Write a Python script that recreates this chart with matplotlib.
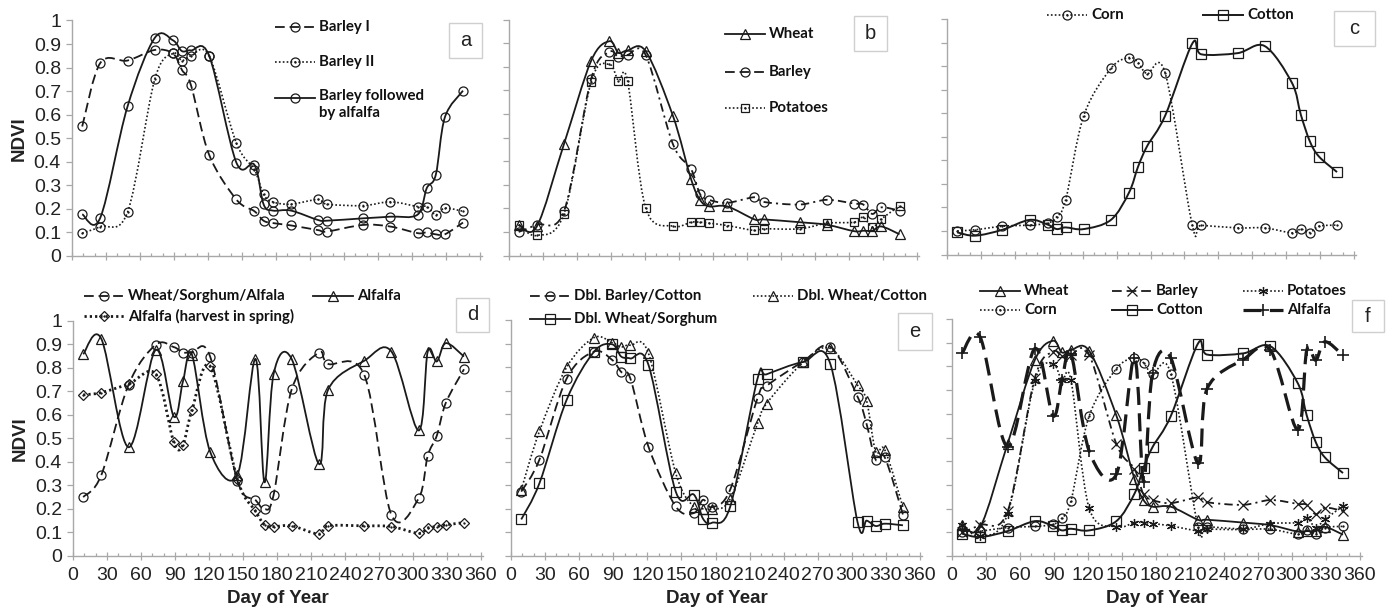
import matplotlib
matplotlib.use("Agg")
import matplotlib.pyplot as plt
from matplotlib.path import Path
from matplotlib.patches import PathPatch, Rectangle
from matplotlib.lines import Line2D
import numpy as np

plt.rcParams['lines.scale_dashes'] = False

# ---------------- data ----------------
days = [9, 25, 49, 73, 89, 97, 105, 121, 145, 161, 169, 177, 193, 217, 225, 257, 281, 305, 313, 321, 329, 345]

# panel a
barley_1 = [0.55, 0.82, 0.83, 0.875, 0.86, 0.79, 0.725, 0.43, 0.24, 0.19, 0.15, 0.14, 0.13, 0.11, 0.104, 0.132, 0.125, 0.097, 0.10, 0.092, 0.092, 0.142]
barley_2 = [0.097, 0.125, 0.186, 0.75, 0.86, 0.83, 0.85, 0.85, 0.48, 0.366, 0.262, 0.23, 0.22, 0.24, 0.22, 0.214, 0.23, 0.21, 0.21, 0.175, 0.203, 0.19]
barley_alfalfa = [0.177, 0.163, 0.635, 0.926, 0.916, 0.87, 0.873, 0.851, 0.397, 0.387, 0.22, 0.193, 0.193, 0.153, 0.15, 0.16, 0.167, 0.176, 0.288, 0.345, 0.589, 0.702]

# panel b (reused in f)
wheat = [0.13, 0.123, 0.473, 0.826, 0.908, 0.859, 0.869, 0.866, 0.593, 0.325, 0.236, 0.208, 0.208, 0.153, 0.153, 0.141, 0.13, 0.103, 0.105, 0.105, 0.123, 0.09]
barley = [0.10, 0.131, 0.188, 0.75, 0.862, 0.843, 0.85, 0.85, 0.473, 0.367, 0.26, 0.236, 0.223, 0.247, 0.227, 0.216, 0.236, 0.22, 0.216, 0.176, 0.204, 0.19]
potatoes = [0.13, 0.085, 0.177, 0.737, 0.81, 0.741, 0.741, 0.202, 0.124, 0.141, 0.141, 0.137, 0.127, 0.106, 0.113, 0.113, 0.137, 0.141, 0.162, 0.12, 0.155, 0.21]

# panel c (reused in f)
corn = [0.10, 0.105, 0.12, 0.125, 0.133, 0.16, 0.233, 0.59, 0.79, 0.836, 0.815, 0.767, 0.77, 0.124, 0.124, 0.113, 0.113, 0.092, 0.108, 0.093, 0.12, 0.125]
cotton = [0.094, 0.08, 0.105, 0.147, 0.127, 0.108, 0.115, 0.108, 0.147, 0.263, 0.373, 0.46, 0.59, 0.896, 0.85, 0.855, 0.885, 0.73, 0.593, 0.48, 0.416, 0.35]

# panel d (alfalfa reused in f)
wheat_sorghum_alfalfa = [0.25, 0.344, 0.727, 0.897, 0.887, 0.864, 0.864, 0.847, 0.32, 0.238, 0.198, 0.259, 0.708, 0.864, 0.816, 0.769, 0.174, 0.245, 0.426, 0.511, 0.651, 0.793]
alfalfa = [0.857, 0.922, 0.462, 0.875, 0.592, 0.741, 0.854, 0.443, 0.344, 0.837, 0.313, 0.773, 0.836, 0.391, 0.705, 0.829, 0.868, 0.533, 0.868, 0.826, 0.904, 0.847]
alfalfa_spring = [0.684, 0.694, 0.73, 0.772, 0.482, 0.472, 0.62, 0.805, 0.326, 0.191, 0.132, 0.125, 0.128, 0.093, 0.128, 0.128, 0.125, 0.096, 0.119, 0.125, 0.132, 0.142]

# panel e
dbl_barley_cotton = [0.273, 0.408, 0.752, 0.866, 0.831, 0.78, 0.753, 0.463, 0.21, 0.182, 0.238, 0.207, 0.282, 0.669, 0.721, 0.824, 0.887, 0.675, 0.559, 0.408, 0.418, 0.175]
dbl_wheat_cotton = [0.28, 0.528, 0.80, 0.925, 0.904, 0.886, 0.893, 0.859, 0.351, 0.207, 0.20, 0.20, 0.242, 0.562, 0.646, 0.82, 0.88, 0.724, 0.658, 0.442, 0.45, 0.207]
dbl_wheat_sorghum = [0.155, 0.308, 0.662, 0.865, 0.897, 0.845, 0.837, 0.81, 0.273, 0.26, 0.158, 0.141, 0.21, 0.752, 0.77, 0.822, 0.815, 0.144, 0.15, 0.127, 0.137, 0.13]

x_ticks = list(range(0, 361, 30))
y_ticks = [0, 0.1, 0.2, 0.3, 0.4, 0.5, 0.6, 0.7, 0.8, 0.9, 1]
y_labels = ["0", "0.1", "0.2", "0.3", "0.4", "0.5", "0.6", "0.7", "0.8", "0.9", "1"]

# ---------------- style ----------------
W, H = 1392, 609
K = "#1a1a1a"
GRAY = "#a8a8a8"
TICKFONT = "Liberation Sans"
LEGFONT = "Lato"

SOLID = "-"
DASH = (0, (7, 3.5))
DASHDOT = (0, (6, 3, 1.5, 3))
DOT = (0, (1.2, 1.6))
HEAVYDOT = (0, (1.6, 2.2))
LONGDASH = (0, (13, 6))

fig = plt.figure(figsize=(W / 100, H / 100), dpi=100)


def fx(px):
    return px / W


def fy(py):
    return 1 - py / H


def make_ax(x0, x360, y0, y1, xlabels, ylabels):
    xmax = 362
    width = (x360 - x0) * xmax / 360
    ax = fig.add_axes([fx(x0), fy(y0), width / W, (y0 - y1) / H])
    ax.set_xlim(0, xmax)
    ax.set_ylim(0, 1)
    for s in ("top", "right"):
        ax.spines[s].set_visible(False)
    for s in ("left", "bottom"):
        ax.spines[s].set_color(GRAY)
        ax.spines[s].set_linewidth(1.0)
    ax.set_xticks(x_ticks)
    ax.set_xticks(list(range(0, 361, 10)), minor=True)
    ax.set_yticks(y_ticks)
    ax.tick_params(axis="x", which="major", direction="inout", length=6, width=0.9, color=GRAY, pad=5)
    ax.tick_params(axis="x", which="minor", direction="in", length=2.5, width=0.9, color=GRAY)
    ax.tick_params(axis="y", which="major", direction="out", length=4, width=0.9, color=GRAY, pad=4)
    ax.tick_params(axis="y", which="minor", left=False)
    if xlabels:
        ax.set_xticklabels([str(t) for t in x_ticks], fontsize=14, family=TICKFONT, color="#222222")
        ax.set_xlabel("Day of Year", fontsize=13.5, family=TICKFONT, fontweight="bold", labelpad=4, color="#222222")
    else:
        ax.set_xticklabels([])
    if ylabels:
        ax.set_yticklabels(y_labels, fontsize=14, family=TICKFONT, color="#222222")
        ax.set_ylabel("NDVI", fontsize=13.5, family=TICKFONT, fontweight="bold", labelpad=4, color="#222222")
    else:
        ax.set_yticklabels([])
    ax.patch.set_alpha(0)
    return ax


def smooth_line(ax, x, y, ls, lw):
    pts = np.column_stack([x, y]).astype(float)
    n = len(pts)
    verts = [pts[0]]
    codes = [Path.MOVETO]
    for i in range(n - 1):
        p0 = pts[max(i - 1, 0)]
        p1 = pts[i]
        p2 = pts[i + 1]
        p3 = pts[min(i + 2, n - 1)]
        verts += [p1 + (p2 - p0) / 6.0, p2 - (p3 - p1) / 6.0, p2]
        codes += [Path.CURVE4] * 3
    patch = PathPatch(Path(verts, codes), fill=False, edgecolor=K, lw=lw,
                      linestyle=ls, transform=ax.transData, capstyle="butt",
                      joinstyle="round", clip_on=False)
    ax.add_patch(patch)


def series(ax, x, y, ls, lw, marker, ms, dot=False, mew=0.9):
    smooth_line(ax, x, y, ls, lw)
    ax.plot(x, y, ls="none", marker=marker, ms=ms, mfc="none", mec=K, mew=mew, clip_on=False)
    if dot:
        ax.plot(x, y, ls="none", marker="o", ms=1.3, mfc=K, mec=K, mew=0.3, clip_on=False)


def legend_entry(x_px, y_px, label, ls, lw, marker, ms, dot=False, mew=0.9, length=40):
    xs = [fx(x_px), fx(x_px + length / 2), fx(x_px + length)]
    ys = [fy(y_px)] * 3
    ln = Line2D(xs, ys, transform=fig.transFigure, color=K, lw=lw, linestyle=ls,
                dash_capstyle="butt", marker=marker, markevery=[1], ms=ms,
                mfc="none", mec=K, mew=mew)
    fig.add_artist(ln)
    if dot:
        fig.add_artist(Line2D([xs[1]], [ys[1]], transform=fig.transFigure, ls="none",
                              marker="o", ms=1.3, mfc=K, mec=K, mew=0.3))
    if label:
        fig.text(fx(x_px + length + 4), fy(y_px), label, fontsize=10.8, family=LEGFONT,
                 fontweight="bold", va="center", ha="left", color="#111111")


def panel_box(x0, y0, x1, y1, letter):
    r = Rectangle((fx(x0), fy(y1)), (x1 - x0) / W, (y1 - y0) / H, transform=fig.transFigure,
                  facecolor="white", edgecolor="#cfcfcf", lw=1.0)
    fig.add_artist(r)
    fig.text(fx((x0 + x1) / 2), fy((y0 + y1) / 2), letter, fontsize=14.5, family=TICKFONT,
             ha="center", va="center", color="#222222")


# ---------------- panel a ----------------
ax_a = make_ax(72, 480, 256, 20.5, False, True)
series(ax_a, days, barley_1, DASH, 1.3, "o", 6.5)
series(ax_a, days, barley_2, DOT, 1.2, "o", 6.5, dot=True)
series(ax_a, days, barley_alfalfa, SOLID, 1.3, "o", 6.5)
legend_entry(275, 27, "Barley I", DASH, 1.3, "o", 6.5)
legend_entry(275, 62, "Barley II", DOT, 1.2, "o", 6.5, dot=True)
legend_entry(275, 98, "", SOLID, 1.3, "o", 6.5)
fig.text(fx(319), fy(89), "Barley followed\nby alfalfa", fontsize=10.8, family=LEGFONT,
         fontweight="bold", va="top", ha="left", color="#111111", linespacing=1.25)
panel_box(449, 23, 482, 58, "a")

# ---------------- panel b ----------------
ax_b = make_ax(508.5, 916.5, 255.5, 19.5, False, False)
series(ax_b, days, wheat, SOLID, 1.3, "^", 7)
series(ax_b, days, barley, DASHDOT, 1.3, "o", 6.5)
series(ax_b, days, potatoes, DOT, 1.2, "s", 6, dot=True)
legend_entry(725, 34, "Wheat", SOLID, 1.3, "^", 7)
legend_entry(725, 72, "Barley", DASH, 1.3, "o", 6.5)
legend_entry(725, 108, "Potatoes", DOT, 1.2, "s", 6, dot=True)
panel_box(854, 16, 887, 51, "b")

# ---------------- panel c ----------------
ax_c = make_ax(947, 1354, 254.5, 19, False, False)
series(ax_c, days, corn, DOT, 1.2, "o", 6.5, dot=True)
series(ax_c, days, cotton, SOLID, 1.4, "s", 6.5)
legend_entry(1047, 15, "Corn", DOT, 1.2, "o", 6.5, dot=True)
legend_entry(1203, 15, "Cotton", SOLID, 1.4, "s", 6.5)
panel_box(1334, 11, 1375, 46, "c")

# ---------------- panel d ----------------
ax_d = make_ax(73, 481, 556, 320.5, True, True)
series(ax_d, days, wheat_sorghum_alfalfa, DASH, 1.3, "o", 6.5)
series(ax_d, days, alfalfa, SOLID, 1.3, "^", 7)
series(ax_d, days, alfalfa_spring, HEAVYDOT, 2.0, "D", 4.8, dot=True)
legend_entry(84, 296, "Wheat/Sorghum/Alfala", DASH, 1.3, "o", 6.5)
legend_entry(313, 296, "Alfalfa", SOLID, 1.3, "^", 7)
legend_entry(84, 316, "Alfalfa (harvest in spring)", HEAVYDOT, 2.0, "D", 4.8, dot=True)
panel_box(456, 298, 489, 332, "d")

# ---------------- panel e ----------------
ax_e = make_ax(511, 920, 556, 320, True, False)
series(ax_e, days, dbl_barley_cotton, DASH, 1.3, "o", 6.5)
series(ax_e, days, dbl_wheat_cotton, DOT, 1.2, "^", 7)
series(ax_e, days, dbl_wheat_sorghum, SOLID, 1.3, "s", 6.5)
legend_entry(530, 296, "Dbl. Barley/Cotton", DASH, 1.3, "o", 6.5)
legend_entry(753, 296, "Dbl. Wheat/Cotton", DOT, 1.2, "^", 7)
legend_entry(530, 319, "Dbl. Wheat/Sorghum", SOLID, 1.3, "s", 6.5)
panel_box(898, 313, 932, 350, "e")

# ---------------- panel f ----------------
ax_f = make_ax(952, 1360, 556, 319, True, False)
series(ax_f, days, wheat, SOLID, 1.3, "^", 7)
series(ax_f, days, barley, DASHDOT, 1.3, "x", 6.5)
series(ax_f, days, potatoes, DOT, 1.2, (6, 2, 0), 6.5)
series(ax_f, days, corn, DOT, 1.2, "o", 6.5, dot=True)
series(ax_f, days, cotton, SOLID, 1.4, "s", 6.5)
series(ax_f, days, alfalfa, LONGDASH, 2.3, "+", 8, mew=1.2)
legend_entry(980, 291, "Wheat", SOLID, 1.3, "^", 7)
legend_entry(1112, 291, "Barley", DASH, 1.3, "x", 6.5)
legend_entry(1243, 291, "Potatoes", DOT, 1.2, (6, 2, 0), 6.5)
legend_entry(980, 310, "Corn", DOT, 1.2, "o", 6.5, dot=True)
legend_entry(1112, 310, "Cotton", SOLID, 1.4, "s", 6.5)
legend_entry(1243, 310, "Alfalfa", LONGDASH, 2.3, "+", 8, mew=1.2)
panel_box(1352, 300, 1384, 332, "f")

fig.savefig("out.png", dpi=100)
